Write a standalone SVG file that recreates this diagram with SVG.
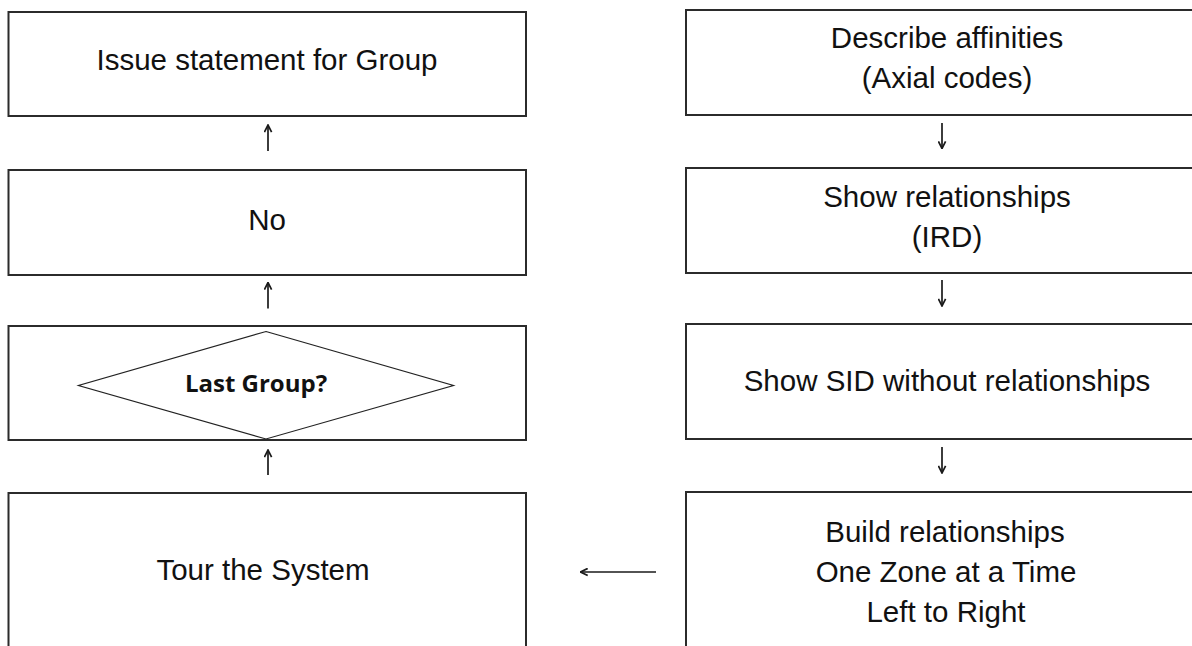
<svg xmlns="http://www.w3.org/2000/svg" width="1192" height="646" viewBox="0 0 1192 646">
<defs>
<style>
.box{fill:#fff;stroke:#2b2b2b;stroke-width:2}
.dia{fill:#fff;stroke:#222;stroke-width:1.2}
.t{font-family:"Liberation Sans",Arial,sans-serif;font-size:29.5px;fill:#111;text-anchor:middle}
.b{font-family:"Open Sans","Liberation Sans",sans-serif;font-size:24px;font-weight:bold;fill:#111;text-anchor:middle}
.c{stroke:#1a1a1a;stroke-width:1.7;fill:none}
</style>
<marker id="ah" viewBox="0 0 10 10" refX="9" refY="5" markerWidth="9" markerHeight="9" markerUnits="userSpaceOnUse" orient="auto">
<path d="M1,1 L9,5 L1,9" fill="none" stroke="#1a1a1a" stroke-width="1.9"/>
</marker>
</defs>
<rect width="1192" height="646" fill="#fff"/>
<g id="issue">
<rect class="box" x="8.5" y="12" width="517.5" height="104"/>
<text class="t" x="267" y="70">Issue statement for Group</text>
</g>
<g id="no">
<rect class="box" x="8.5" y="170" width="517.5" height="105"/>
<text class="t" x="267" y="230">No</text>
</g>
<g id="lastgroup">
<rect class="box" x="8.5" y="326" width="517.5" height="114"/>
<polygon class="dia" points="266,331.5 453.5,385.5 266,439 78.5,385.5"/>
<text class="b" x="256" y="392">Last Group?</text>
</g>
<g id="tour">
<rect class="box" x="8.5" y="493" width="517.5" height="170"/>
<text class="t" x="263" y="580">Tour the System</text>
</g>
<g id="describe">
<rect class="box" x="686" y="10" width="530" height="105"/>
<text class="t" x="947" y="48">Describe affinities</text>
<text class="t" x="947" y="88">(Axial codes)</text>
</g>
<g id="showrel">
<rect class="box" x="686" y="168" width="530" height="105"/>
<text class="t" x="947" y="207">Show relationships</text>
<text class="t" x="947" y="247">(IRD)</text>
</g>
<g id="sid">
<rect class="box" x="686" y="324" width="530" height="115"/>
<text class="t" x="947" y="391">Show SID without relationships</text>
</g>
<g id="build">
<rect class="box" x="686" y="492" width="530" height="170"/>
<text class="t" x="945" y="542">Build relationships</text>
<text class="t" x="946" y="582">One Zone at a Time</text>
<text class="t" x="946" y="622">Left to Right</text>
</g>
<g id="connectors">
<line class="c" x1="268" y1="151" x2="268" y2="125" marker-end="url(#ah)"/>
<line class="c" x1="268" y1="308.5" x2="268" y2="282.5" marker-end="url(#ah)"/>
<line class="c" x1="268" y1="475" x2="268" y2="450" marker-end="url(#ah)"/>
<line class="c" x1="942" y1="123" x2="942" y2="148.5" marker-end="url(#ah)"/>
<line class="c" x1="942" y1="280" x2="942" y2="306" marker-end="url(#ah)"/>
<line class="c" x1="942" y1="447" x2="942" y2="473" marker-end="url(#ah)"/>
<line class="c" x1="656" y1="572" x2="580.5" y2="572" marker-end="url(#ah)"/>
</g>
</svg>
